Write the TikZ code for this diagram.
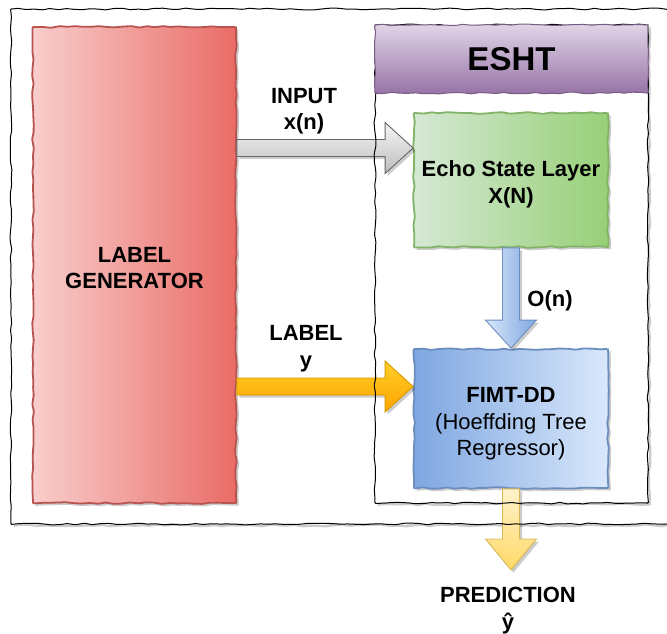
\documentclass[tikz,border=0pt]{standalone}
\usepackage{fontspec}
\setmainfont{Liberation Sans}
\usetikzlibrary{decorations.pathmorphing,shadows}

\definecolor{genlight}{HTML}{F8CECC}
\definecolor{gendark}{HTML}{EA6B66}
\definecolor{genline}{HTML}{B85450}
\definecolor{esllight}{HTML}{D5E8D4}
\definecolor{esldark}{HTML}{97D077}
\definecolor{eslline}{HTML}{82B366}
\definecolor{fimtlight}{HTML}{DAE8FC}
\definecolor{fimtdark}{HTML}{7EA6E0}
\definecolor{fimtline}{HTML}{6C8EBF}
\definecolor{headlight}{HTML}{E1D5E7}
\definecolor{headdark}{HTML}{9673A6}
\definecolor{grayline}{HTML}{666666}
\definecolor{graylight}{HTML}{F5F5F5}
\definecolor{graydark}{HTML}{BDBDBD}
\definecolor{orangelight}{HTML}{FFCD28}
\definecolor{orangedark}{HTML}{FFA500}
\definecolor{orangeline}{HTML}{D79B00}
\definecolor{yellowlight}{HTML}{FFF2CC}
\definecolor{yellowdark}{HTML}{FFD966}
\definecolor{yellowline}{HTML}{D6B656}

\tikzset{
  sketch/.style={decorate, decoration={random steps, segment length=8pt, amplitude=0.9pt}, rounded corners=0.8pt},
  softshadow/.style={drop shadow={shadow xshift=2.5pt, shadow yshift=-2.5pt, fill=black, opacity=0.2}},
  box/.style={sketch, softshadow, draw, line width=1.8pt, inner sep=0pt},
  panelfill/.style={sketch, softshadow, fill=white, inner sep=0pt},
  panelline/.style={sketch, draw=black, line width=1pt, inner sep=0pt},
  txt/.style={font=\fontsize{22}{26.5}\selectfont\bfseries, align=center, inner sep=0pt},
  blockarrow/.style={line width=0.9pt, line join=miter, softshadow},
}

% horizontal block arrow: style, tail, tip, head length
\newcommand\harrow[4]{%
  \draw[#1] ([yshift=8.5pt]#2) -- ([xshift=-#4,yshift=8.5pt]#3) -- ([xshift=-#4,yshift=25.5pt]#3)
    -- (#3) -- ([xshift=-#4,yshift=-25.5pt]#3) -- ([xshift=-#4,yshift=-8.5pt]#3)
    -- ([yshift=-8.5pt]#2) -- cycle;}
% downward block arrow: style, tail, tip, head length
\newcommand\varrow[4]{%
  \draw[#1] ([xshift=-8.5pt]#2) -- ([xshift=-8.5pt,yshift=#4]#3) -- ([xshift=-25.5pt,yshift=#4]#3)
    -- (#3) -- ([xshift=25.5pt,yshift=#4]#3) -- ([xshift=8.5pt,yshift=#4]#3)
    -- ([xshift=8.5pt]#2) -- cycle;}

\begin{document}
\begin{tikzpicture}[x=1pt,y=-1pt]
\useasboundingbox (0,0) rectangle (667,633);

% white panels with their shadows
\node[panelfill, minimum width=680pt, minimum height=515pt] (outer) at (351,266.5) {};
\node[panelfill, minimum width=273pt, minimum height=478pt] (eshtbox) at (511.5,264) {};

% main blocks
\node[box, draw=genline, left color=genlight, right color=gendark,
      minimum width=203pt, minimum height=476pt] (gen) at (134.5,265) {};
\node[box, draw=eslline, left color=esllight, right color=esldark,
      minimum width=194pt, minimum height=134pt] (esl) at (511,180) {};
\node[box, draw=fimtline, left color=fimtdark, right color=fimtlight,
      minimum width=194pt, minimum height=139pt] (fimt) at (511,418.5) {};

% arrow levels and free ends
\coordinate (inlevel) at (0,148);
\coordinate (lblevel) at (0,386.5);
\coordinate (intail) at (gen.east |- inlevel);
\coordinate (intip) at (esl.west |- inlevel);
\coordinate (lbtail) at (gen.east |- lblevel);
\coordinate (lbtip) at (fimt.west |- lblevel);
\coordinate (predtip) at (511,570);

% block arrows
\harrow{blockarrow, draw=grayline, top color=graylight, bottom color=graydark}{intail}{intip}{28pt}
\harrow{blockarrow, draw=orangeline, top color=orangelight, bottom color=orangedark}{lbtail}{lbtip}{28pt}
\varrow{blockarrow, draw=fimtline, left color=fimtlight, right color=fimtdark}{esl.south}{fimt.north}{28pt}
\varrow{blockarrow, draw=yellowline, top color=yellowlight, bottom color=yellowdark}{fimt.south}{predtip}{31pt}

% panel outlines on top of the arrows
\node[panelline, minimum width=680pt, minimum height=515pt] (outerline) at (outer.center) {};
\node[panelline, minimum width=273pt, minimum height=478pt] (eshtline) at (eshtbox.center) {};

% ESHT header
\node[sketch, draw=headdark!80!black, line width=1pt, top color=headlight, bottom color=headdark,
      minimum width=273pt, minimum height=68pt, inner sep=0pt,
      font=\fontsize{33}{38}\selectfont\bfseries] (eshthead) at (511.5,59) {ESHT};

% block texts
\node[txt] (gentext) at (134.5,268) {LABEL\\GENERATOR};
\node[txt] (esltext) at (511,184.5) {Echo State Layer\\X(N)};
\node[txt] (fimttext) at (511,424) {FIMT-DD\\{\mdseries (Hoeffding Tree}\\{\mdseries Regressor)}};

% arrow labels
\node[txt] (inlbl) at (304,111) {INPUT\\x(n)};
\node[txt] (lblbl) at (306,348.5) {LABEL\\y};
\node[txt] (onlbl) at (550,301) {O(n)};
\node[txt] (predlbl) at (508,610.5) {PREDICTION\\ŷ};
\end{tikzpicture}
\end{document}
